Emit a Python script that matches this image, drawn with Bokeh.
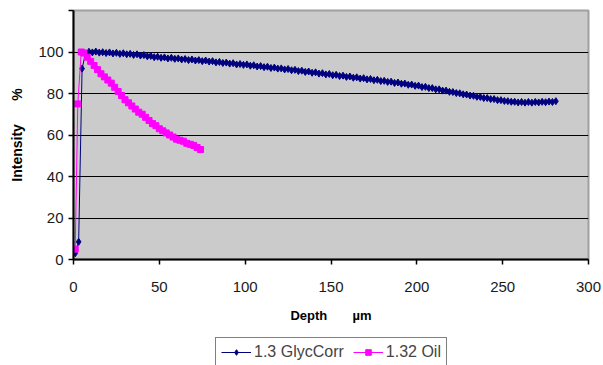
from bokeh.plotting import figure
from bokeh.layouts import column
from bokeh.models import (Range1d, FixedTicker, Legend, LegendItem)
from bokeh.embed import file_html
from bokeh.resources import INLINE

# ---- data ----
glyc_depth = [1, 3, 5, 7, 9, 11, 13, 15, 17, 19, 21, 23, 25, 27, 29, 31, 33, 35, 37, 39,
              41, 43, 45, 47, 49, 51, 53, 55, 57, 59, 61, 63, 65, 67, 69, 71, 73, 75, 77, 79,
              81, 83, 85, 87, 89, 91, 93, 95, 97, 99, 101, 103, 105, 107, 109, 111, 113, 115, 117, 119,
              121, 123, 125, 127, 129, 131, 133, 135, 137, 139, 141, 143, 145, 147, 149, 151, 153, 155, 157, 159,
              161, 163, 165, 167, 169, 171, 173, 175, 177, 179, 181, 183, 185, 187, 189, 191, 193, 195, 197, 199,
              201, 203, 205, 207, 209, 211, 213, 215, 217, 219, 221, 223, 225, 227, 229, 231, 233, 235, 237, 239,
              241, 243, 245, 247, 249, 251, 253, 255, 257, 259, 261, 263, 265, 267, 269, 271, 273, 275, 277, 279,
              281]
glyc_intensity = [3.0, 8.5, 92.0, 99.3, 100.1, 99.8, 100.2, 99.7, 99.9, 99.5,
                  99.8, 99.3, 99.6, 99.1, 99.4, 98.9, 99.1, 98.6, 98.9, 98.3,
                  98.5, 97.9, 98.1, 97.5, 97.7, 97.2, 97.4, 96.9, 97.2, 96.7,
                  96.9, 96.4, 96.6, 96.1, 96.4, 95.9, 96.1, 95.6, 95.9, 95.4,
                  95.6, 95.0, 95.2, 94.7, 94.9, 94.4, 94.6, 94.0, 94.2, 93.8,
                  94.0, 93.4, 93.6, 93.0, 93.2, 92.7, 92.9, 92.3, 92.5, 92.0,
                  92.1, 91.6, 91.8, 91.2, 91.4, 90.8, 91.0, 90.4, 90.6, 90.0,
                  90.2, 89.6, 89.8, 89.2, 89.4, 88.8, 89.0, 88.4, 88.6, 88.0,
                  88.2, 87.6, 87.8, 87.2, 87.4, 86.8, 87.0, 86.4, 86.6, 86.0,
                  86.1, 85.6, 85.7, 85.1, 85.3, 84.7, 84.8, 84.2, 84.3, 83.7,
                  83.8, 83.1, 83.2, 82.6, 82.6, 82.0, 82.0, 81.4, 81.4, 80.8,
                  80.7, 80.2, 80.1, 79.6, 79.5, 79.0, 78.9, 78.4, 78.3, 77.8,
                  77.8, 77.3, 77.3, 76.8, 76.8, 76.4, 76.3, 76.0, 76.0, 75.7,
                  75.9, 75.6, 75.9, 75.6, 75.9, 75.7, 76.0, 75.8, 76.1, 75.9,
                  76.3]

oil_depth = [1, 2.5, 4.5, 6, 8, 10, 12, 14, 16, 18, 20, 22, 24, 26, 28, 30, 32, 34, 36, 38,
             40, 42, 44, 46, 48, 50, 52, 54, 56, 58, 60, 62, 64, 66, 68, 70, 72, 74]
oil_intensity = [5.0, 75.0, 100.0, 99.5, 97.5, 95.5, 93.5, 91.5, 89.5, 88.0,
                 86.5, 85.0, 83.0, 81.0, 79.0, 77.0, 75.5, 74.0, 72.5, 71.0,
                 70.0, 68.5, 67.0, 65.5, 64.5, 63.0, 62.0, 61.0, 60.0, 59.0,
                 58.0, 57.5, 57.0, 56.0, 55.5, 55.0, 54.0, 53.0]

series_names = ["1.3 GlycCorr", "1.32 Oil"]
x_ticks = [0, 50, 100, 150, 200, 250, 300]
y_ticks = [0, 20, 40, 60, 80, 100, 120]
y_grid = [20, 40, 60, 80, 100, 120]

FONT = "Liberation Sans"
NB = "\u00a0"
BLUE = "#000080"
PINK = "#ff00ff"

p = figure(width=603, height=330, output_backend="svg", toolbar_location=None,
           x_range=Range1d(0, 300), y_range=Range1d(0, 120),
           min_border_left=73, min_border_right=15, min_border_top=10, min_border_bottom=71)
p.background_fill_color = "#cbcbcb"
p.border_fill_color = "white"
p.outline_line_color = "#a0a0a0"
p.outline_line_width = 2

# axes
p.xaxis.ticker = FixedTicker(ticks=x_ticks)
p.yaxis.ticker = FixedTicker(ticks=y_ticks)
p.yaxis.major_label_overrides = {120: ""}
for ax in (p.xaxis[0], p.yaxis[0]):
    ax.axis_line_color = "black"
    ax.axis_line_width = 2
    ax.major_tick_line_color = "black"
    ax.major_tick_line_width = 1.5
    ax.major_tick_in = 0
    ax.major_tick_out = 5
    ax.minor_tick_line_color = None
    ax.major_label_text_font = FONT
    ax.major_label_text_font_size = "15px"
    ax.major_label_text_color = "#1a1a1a"
    ax.axis_label_text_font = FONT
    ax.axis_label_text_font_style = "bold"
    ax.axis_label_text_color = "black"
p.xaxis.major_label_standoff = 17
p.yaxis.major_label_standoff = 5
p.xaxis.axis_label = "Depth" + NB * 7 + "µm"
p.xaxis.axis_label_text_font_size = "13px"
p.xaxis.axis_label_standoff = 13
p.yaxis.axis_label = "Intensity" + NB * 6 + "%"
p.yaxis.axis_label_text_font_size = "14px"
p.yaxis.axis_label_standoff = 10

p.xgrid.grid_line_color = None
p.ygrid.ticker = FixedTicker(ticks=y_grid)
p.ygrid.grid_line_color = "black"
p.ygrid.grid_line_width = 1

# series
p.line(glyc_depth, glyc_intensity, line_color=BLUE, line_width=1)
p.scatter(glyc_depth, glyc_intensity, marker="diamond", size=7,
          fill_color=BLUE, line_color=BLUE)
p.line(oil_depth, oil_intensity, line_color=PINK, line_width=1)
p.scatter(oil_depth, oil_intensity, marker="square", size=6,
          fill_color=PINK, line_color=PINK)

# legend strip below the chart (its glyphs sit outside its own visible range)
q = figure(width=603, height=35, output_backend="svg", toolbar_location=None,
           x_range=Range1d(1000, 1001), y_range=Range1d(1000, 1001),
           min_border=0, min_border_left=0, min_border_right=0,
           min_border_top=0, min_border_bottom=0)
q.axis.visible = False
q.grid.visible = False
q.outline_line_color = None
q.background_fill_color = "white"
l1 = q.line(glyc_depth, glyc_intensity, line_color=BLUE, line_width=1)
s1 = q.scatter(glyc_depth, glyc_intensity, marker="diamond", size=7,
               fill_color=BLUE, line_color=BLUE)
l2 = q.line(oil_depth, oil_intensity, line_color=PINK, line_width=1)
s2 = q.scatter(oil_depth, oil_intensity, marker="square", size=6,
               fill_color=PINK, line_color=PINK)

legend = Legend(items=[LegendItem(label=series_names[0], renderers=[l1, s1]),
                       LegendItem(label=series_names[1], renderers=[l2, s2])],
                orientation="horizontal", location=(142, -2),
                label_text_font=FONT, label_text_font_size="16px",
                glyph_width=30, glyph_height=14, label_standoff=3, spacing=9,
                padding=5, margin=0,
                border_line_color="black", border_line_width=1,
                background_fill_color="white", background_fill_alpha=1)
q.add_layout(legend, "center")

open("out.html", "w").write(file_html(column(p, q, spacing=0), INLINE))
